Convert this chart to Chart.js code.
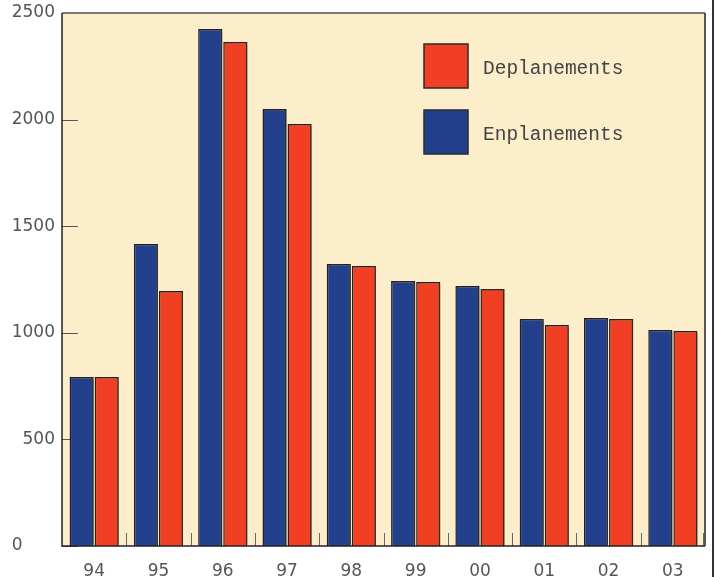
<!DOCTYPE html>
<html>
<head>
<meta charset="utf-8">
<script src="https://cdn.jsdelivr.net/npm/chart.js@4"></script>
<style>
  html, body { margin: 0; padding: 0; background: #fff; }
  #wrap { width: 715px; height: 577px; position: relative; }
</style>
</head>
<body>
<div id="wrap"><canvas id="chart" width="715" height="577"></canvas></div>
<script>
// years 1994 - 2003
const years = ['94', '95', '96', '97', '98', '99', '00', '01', '02', '03'];
const enplanements = [793, 1416, 2425, 2050, 1323, 1243, 1219, 1065, 1069, 1013];
const deplanements = [793, 1196, 2364, 1979, 1313, 1238, 1205, 1036, 1065, 1008];
const yTicks = [0, 500, 1000, 1500, 2000, 2500];

const BLUE = '#22408c';
const RED = '#f03f22';
const PLOT_BG = '#fcedcb';

// plot background, inward ticks, frame and the boxed legend
const decorations = {
    id: 'decorations',
    beforeDraw(chart) {
        const { ctx, chartArea: a } = chart;
        ctx.save();
        ctx.fillStyle = PLOT_BG;
        ctx.fillRect(a.left, a.top, a.right - a.left, a.bottom - a.top);
        ctx.restore();
    },
    beforeDatasetsDraw(chart) {
        const { ctx, chartArea: a, scales } = chart;
        ctx.save();
        ctx.lineWidth = 1;
        ctx.strokeStyle = '#555';
        yTicks.forEach(v => {
            const y = Math.round(scales.y.getPixelForValue(v)) + 0.5;
            ctx.beginPath();
            ctx.moveTo(a.left, y);
            ctx.lineTo(a.left + 16, y);
            ctx.stroke();
        });
        ctx.strokeStyle = '#666';
        const step = (a.right - a.left) / years.length;
        for (let i = 1; i <= years.length; i++) {
            let x = Math.round(a.left + step * i);
            if (i === years.length) x = a.right - 2;
            ctx.beginPath();
            ctx.moveTo(x + 0.5, a.bottom);
            ctx.lineTo(x + 0.5, a.bottom - 13);
            ctx.stroke();
        }
        ctx.restore();
        // shadow for bars
        ctx.save();
        ctx.shadowColor = 'rgba(60,50,30,0.6)';
        ctx.shadowOffsetX = 2;
        ctx.shadowOffsetY = -1;
        ctx.shadowBlur = 1;
    },
    afterDatasetsDraw(chart) {
        chart.ctx.restore();
    },
    afterDraw(chart) {
        const { ctx, chartArea: a } = chart;
        ctx.save();
        // frame
        ctx.strokeStyle = '#777';
        ctx.lineWidth = 2;
        ctx.beginPath();
        ctx.moveTo(a.left, a.top);
        ctx.lineTo(a.right, a.top);
        ctx.stroke();
        ctx.strokeStyle = '#222';
        ctx.lineWidth = 1.5;
        ctx.beginPath();
        ctx.moveTo(a.left, a.top);
        ctx.lineTo(a.left, a.bottom);
        ctx.lineTo(a.right, a.bottom);
        ctx.moveTo(a.right, a.top);
        ctx.lineTo(a.right, a.bottom);
        ctx.stroke();
        ctx.strokeStyle = '#333';
        ctx.lineWidth = 2;
        ctx.beginPath();
        ctx.moveTo(713, 0);
        ctx.lineTo(713, 577);
        ctx.stroke();

        // legend
        const items = [
            { label: chart.data.datasets[1].label, color: RED, y: 44 },
            { label: chart.data.datasets[0].label, color: BLUE, y: 110 }
        ];
        ctx.font = '19.5px "Courier New", "Liberation Mono", monospace';
        ctx.textBaseline = 'middle';
        items.forEach(it => {
            ctx.fillStyle = it.color;
            ctx.fillRect(424, it.y, 44, 44);
            ctx.strokeStyle = '#2a2a2a';
            ctx.lineWidth = 1.5;
            ctx.strokeRect(424, it.y, 44, 44);
            ctx.fillStyle = '#444';
            ctx.fillText(it.label, 483, it.y + 25);
        });
        ctx.restore();
    }
};

const ctx = document.getElementById('chart').getContext('2d');
new Chart(ctx, {
    type: 'bar',
    data: {
        labels: years,
        datasets: [
            {
                label: 'Enplanements',
                data: enplanements,
                backgroundColor: BLUE,
                borderColor: '#1e1e28',
                borderWidth: 1.5,
                categoryPercentage: 0.78,
                barPercentage: 0.96
            },
            {
                label: 'Deplanements',
                data: deplanements,
                backgroundColor: RED,
                borderColor: '#2a1e1a',
                borderWidth: 1.5,
                categoryPercentage: 0.78,
                barPercentage: 0.96
            }
        ]
    },
    options: {
        responsive: false,
        animation: false,
        layout: { padding: { top: 13, right: 10, left: 0, bottom: 0 } },
        plugins: {
            legend: { display: false },
            tooltip: { enabled: false }
        },
        scales: {
            x: {
                grid: { display: false, drawTicks: false },
                border: { display: false },
                ticks: {
                    color: '#555',
                    font: { family: '"DejaVu Sans", sans-serif', size: 17 },
                    padding: 15
                },
                afterFit(scale) {
                    scale.height = 31;
                    scale.paddingLeft = 0;
                    scale.paddingRight = 0;
                }
            },
            y: {
                min: 0,
                max: 2500,
                grid: { display: false, drawTicks: false },
                border: { display: false },
                afterBuildTicks(scale) { scale.ticks = yTicks.map(v => ({ value: v })); },
                ticks: {
                    color: '#555',
                    font: { family: '"DejaVu Sans", sans-serif', size: 17 },
                    padding: 7,
                    // the zero label sits further left in the original
                    callback: v => v === 0 ? '0\u2007\u2007\u2007' : String(v)
                },
                afterFit(scale) {
                    scale.width = 62;
                    scale.paddingTop = 0;
                    scale.paddingBottom = 0;
                }
            }
        }
    },
    plugins: [decorations]
});
</script>
</body>
</html>
